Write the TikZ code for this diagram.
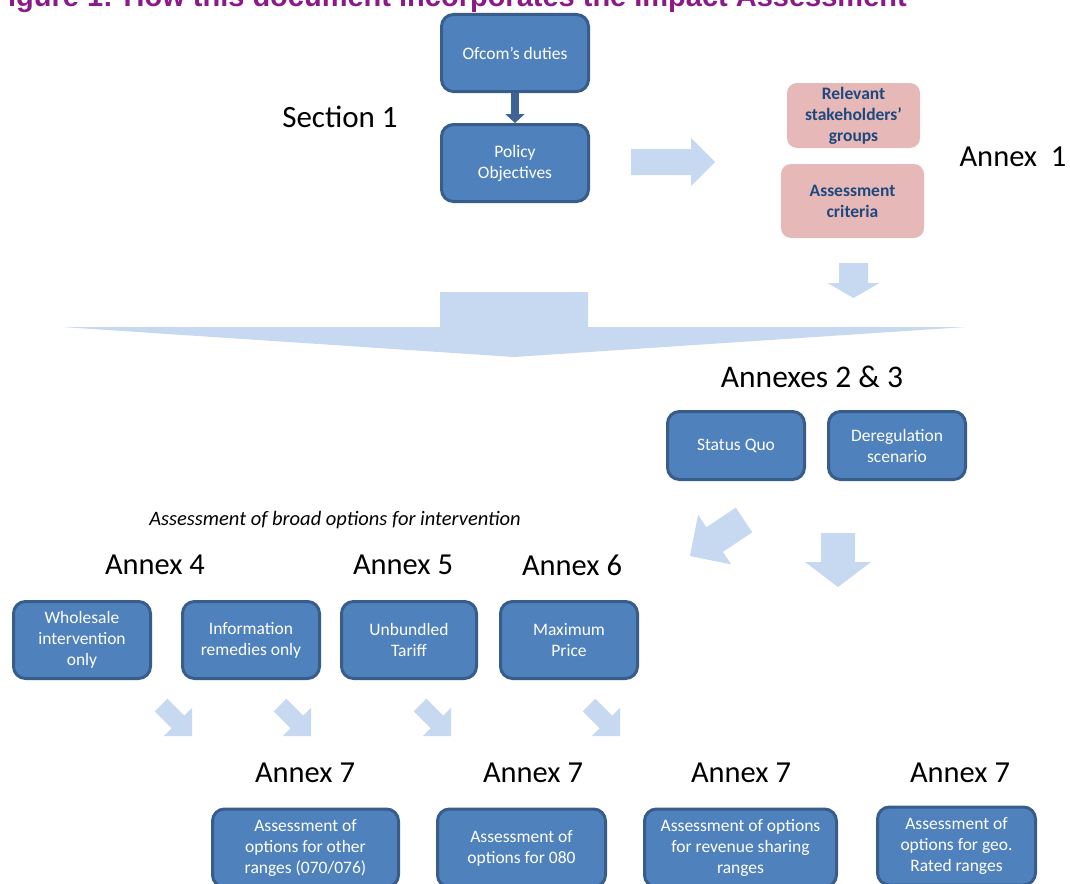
\documentclass[tikz,border=0pt]{standalone}
\usepackage{fontspec}
\setmainfont{Carlito}
\newfontfamily\titlefont{Liberation Sans}
\usetikzlibrary{arrows.meta}
\definecolor{boxfill}{HTML}{4F81BD}
\definecolor{boxborder}{HTML}{385D8A}
\definecolor{pinkfill}{HTML}{E6B9B8}
\definecolor{pinktext}{HTML}{1F497D}
\definecolor{lightarrow}{HTML}{C6D9F1}
\definecolor{darkarrow}{HTML}{3E6396}
\definecolor{titlepurple}{HTML}{8B1A89}
% block arrow: tail x, tail y, angle, length, shaft half width, head half width, head length
\newcommand\blockarr[7]{%
  \begin{scope}[shift={(#1,#2)}, rotate=#3]
    \fill[lightarrow] (0,-#5) -- ({#4-#7},-#5) -- ({#4-#7},-#6) -- (#4,0) -- ({#4-#7},#6) -- ({#4-#7},#5) -- (0,#5) -- cycle;
  \end{scope}}
\begin{document}
\begin{tikzpicture}[x=1pt,y=-1pt,
  bluebox/.style={draw=boxborder, fill=boxfill, line width=3pt, rounded corners=12pt,
    text=white, align=center, inner sep=0pt, font=\fontsize{17.5}{21}\selectfont},
  pinkbox/.style={fill=pinkfill, rounded corners=10pt, text=pinktext, align=center,
    inner sep=0pt, font=\bfseries\fontsize{17.5}{21}\selectfont},
  lbl/.style={inner sep=0pt, font=\fontsize{30.5}{36}\selectfont},
  darrow/.style={draw=darkarrow, line width=8pt, -{Triangle[width=19pt,length=9pt]}}]
\useasboundingbox (0,0) rectangle (1070,883);
\begin{scope}
\clip (0,0) rectangle (1070,883);

% title
\node[anchor=base east, inner sep=0pt, text=titlepurple,
  font=\titlefont\bfseries\fontsize{29}{34}\selectfont] (title) at (907,6.5)
  {Figure 1: How this document incorporates the Impact Assessment};

% top section
\node[bluebox, minimum width=147pt, minimum height=77pt] (ofcom) at (515,53) {Ofcom’s duties};
\node[bluebox, minimum width=147pt, minimum height=77pt] (policy) at (515,163) {Policy\\Objectives};
\draw[darrow] (ofcom.south) -- (policy.north);
\node[lbl, font=\fontsize{31}{36}\selectfont] (sec1) at (340,117) {Section 1};

\blockarr{631}{162}{0}{84}{13}{24}{24}

\node[pinkbox, minimum width=133pt, minimum height=65pt] (stake) at (853.5,115.5) {Relevant\\stakeholders’\\groups};
\node[pinkbox, minimum width=143pt, minimum height=74pt] (crit) at (852.5,201) {Assessment\\criteria};
\node[lbl] (ann1) at (1013,157) {Annex\ \ 1};

\blockarr{853.5}{263}{-90}{35}{14.5}{26}{15}

% big merging arrow
\fill[lightarrow] (440,292) -- (588,292) -- (588,327) -- (966,327) -- (514,357) -- (62,327) -- (440,327) -- cycle;

% annexes 2 & 3
\node[lbl, font=\fontsize{31.5}{36}\selectfont] (ann23) at (812,377) {Annexes 2 \& 3};
\node[bluebox, minimum width=137pt, minimum height=68pt] (sq) at (736,445.5) {Status Quo};
\node[bluebox, minimum width=137pt, minimum height=68pt] (dereg) at (897,445.5) {Deregulation\\scenario};

\blockarr{744}{520}{-146.3}{65}{14.8}{29.8}{29.7}
\blockarr{838}{533}{-90}{54}{17}{33}{25}

% broad options
\node[inner sep=0pt, font=\itshape\fontsize{20.5}{24}\selectfont] (broad) at (335,520) {Assessment of broad options for intervention};
\node[lbl] (ann4) at (155,565) {Annex 4};
\node[lbl] (ann5) at (403,565) {Annex 5};
\node[lbl] (ann6) at (572,565) {Annex 6};

\node[bluebox, minimum width=137pt, minimum height=77pt] (whole) at (82,640) {Wholesale\\intervention\\only};
\node[bluebox, minimum width=137pt, minimum height=77pt] (info) at (251,640) {Information\\remedies only};
\node[bluebox, minimum width=135pt, minimum height=77pt] (unb) at (409,640) {Unbundled\\Tariff};
\node[bluebox, minimum width=137pt, minimum height=77pt] (maxp) at (569,640) {Maximum\\Price};

\blockarr{161}{705}{-45}{44}{9}{20}{20}
\blockarr{280}{705}{-45}{44}{9}{20}{20}
\blockarr{420}{705}{-45}{44}{9}{20}{20}
\blockarr{589}{705}{-45}{44}{9}{20}{20}

% annex 7 row
\node[lbl] (a7a) at (305,773) {Annex 7};
\node[lbl] (a7b) at (533,773) {Annex 7};
\node[lbl] (a7c) at (741,773) {Annex 7};
\node[lbl] (a7d) at (960,773) {Annex 7};

\node[bluebox, minimum width=186pt, minimum height=78pt] (o1) at (305.5,848) {Assessment of\\options for other\\ranges (070/076)};
\node[bluebox, minimum width=168pt, minimum height=78pt] (o2) at (521.5,848) {Assessment of\\options for 080};
\node[bluebox, minimum width=192pt, minimum height=78pt] (o3) at (740.5,848) {Assessment of options\\for revenue sharing\\ranges};
\node[bluebox, minimum width=158pt, minimum height=78pt] (o4) at (956.5,846) {Assessment of\\options for geo.\\Rated ranges};
\end{scope}
\end{tikzpicture}
\end{document}
